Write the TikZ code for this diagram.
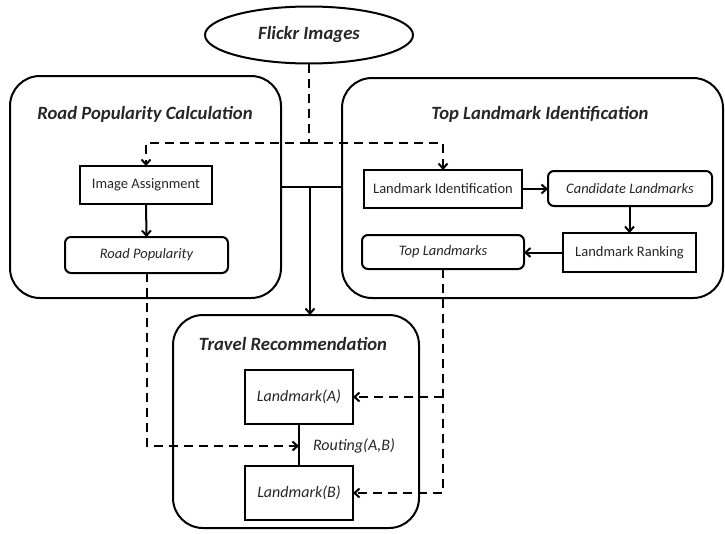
\documentclass[tikz,border=0pt]{standalone}
\usepackage{fontspec}
\setmainfont{Carlito}
\usetikzlibrary{shapes.geometric,arrows.meta}
\begin{document}
\begin{tikzpicture}[x=1pt,y=-1pt,
  every node/.style={inner sep=0pt, outer sep=0pt, text=black!85},
  lw/.style={line width=2pt},
  bigbox/.style={draw, lw, rounded corners=30pt},
  sqbox/.style={draw, lw, font=\fontsize{14.5}{17}\selectfont},
  rdbox/.style={draw, lw, rounded corners=6pt, font=\fontsize{14.5}{17}\itshape\selectfont},
  lmbox/.style={draw, lw, minimum width=108pt, minimum height=54pt, font=\fontsize{16}{19}\itshape\selectfont},
  title/.style={font=\fontsize{18.7}{22}\bfseries\itshape\selectfont},
  tip/.style={-{Straight Barb[length=5pt,width=9pt,line width=2pt]}},
  dsh/.style={lw, dash pattern=on 9pt off 6pt},
  sol/.style={lw}
]
\useasboundingbox (0,0) rectangle (725,533);

% containers
\node[bigbox, minimum width=271pt, minimum height=222pt] (rpc) at (145.5,187) {};
\node[bigbox, minimum width=381pt, minimum height=220pt] (tli) at (532.5,188) {};
\node[bigbox, minimum width=246pt, minimum height=213pt] (tr) at (296,421.5) {};

\node[title] (rpct) at (145,114) {Road Popularity Calculation};
\node[title] (tlit) at (540,114) {Top Landmark Identification};
\node[title] (trt) at (293,344) {Travel Recommendation};

% source
\node[draw, lw, ellipse, minimum width=208pt, minimum height=57pt, title] (flickr) at (309,35) {Flickr Images};

% inner nodes
\node[sqbox, minimum width=132pt, minimum height=38pt] (ia) at (146,185) {Image Assignment};
\node[rdbox, minimum width=163pt, minimum height=36pt] (rp) at (146.5,255) {Road Popularity};
\node[sqbox, minimum width=158pt, minimum height=38pt] (li) at (443,189) {Landmark Identification};
\node[rdbox, minimum width=164pt, minimum height=35pt] (cl) at (630,188.5) {Candidate Landmarks};
\node[sqbox, minimum width=133pt, minimum height=39pt] (lr) at (629.5,252.5) {Landmark Ranking};
\node[rdbox, minimum width=162pt, minimum height=34pt] (tl) at (443,252) {Top Landmarks};
\node[lmbox] (la) at (299,397) {Landmark(A)};
\node[lmbox] (lb) at (299,493) {Landmark(B)};
\node[font=\fontsize{16}{19}\itshape\selectfont] (rt) at (354,446) {Routing(A,B)};

% junction coordinates
\coordinate (j1) at (309,143);
\coordinate (j2) at (310,187);
\coordinate (rj) at (299,446);

% dashed feeds from Flickr
\draw[dsh] (flickr.south) -- (j1);
\draw[dsh, tip] (j1) -| (ia.north);
\draw[dsh, tip] (j1) -| (li.north);

% solid connectors
\draw[sol] (rpc.east |- j2) -- (tli.west |- j2);
\draw[sol, tip] (j2) -- (j2 |- tr.north);
\draw[sol, tip] (ia.south) -- (rp.north);
\draw[sol, tip] (li.east) -- (cl.west |- li.east);
\draw[sol, tip] (cl.south -| lr.north) -- (lr.north);
\draw[sol, tip] (lr.west) -- (tl.east |- lr.west);
\draw[sol] (la.south) -- (lb.north);

% dashed feeds into travel recommendation
\draw[dsh, tip] (rp.south) |- (rj);
\draw[dsh, tip] (tl.south) |- (lb.east);
\draw[dsh, tip] (tl.south |- la.east) -- (la.east);
\end{tikzpicture}
\end{document}
